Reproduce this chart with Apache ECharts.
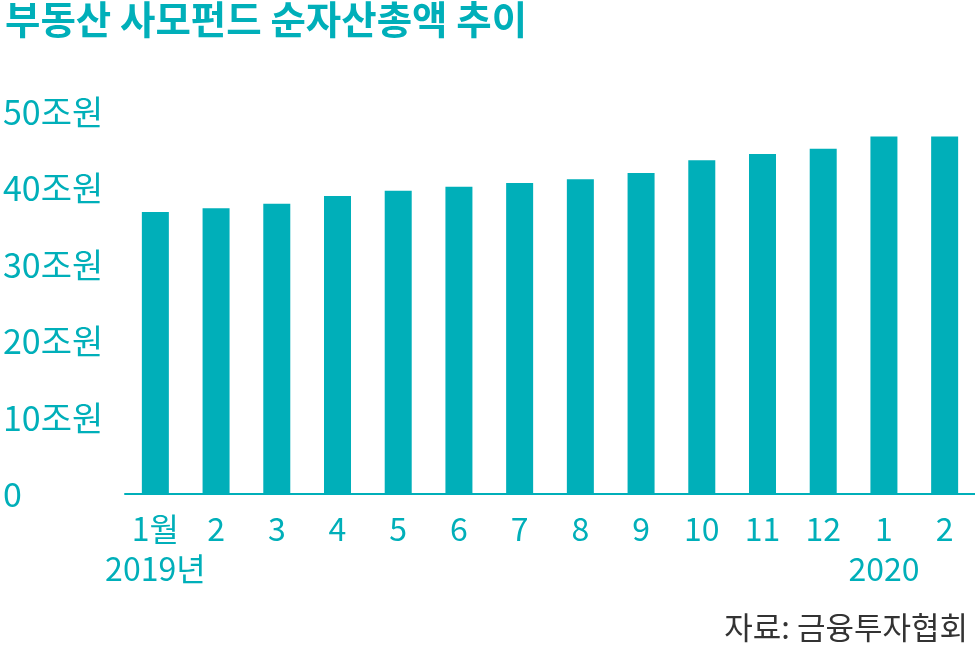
<!DOCTYPE html>
<html>
<head>
<meta charset="utf-8">
<script src="https://cdn.jsdelivr.net/npm/echarts@6/dist/echarts.min.js"></script>
<style>
html,body{margin:0;padding:0;background:#fff;}
#chart{width:975px;height:646px;}
</style>
</head>
<body>
<div id="chart"></div>
<script>
const titleText = '부동산 사모펀드 순자산총액 추이';
const sourceText = '자료: 금융투자협회';
const months = ['1월','2','3','4','5','6','7','8','9','10','11','12','1','2'];
const years = ['2019년','','','','','','','','','','','','2020',''];
const netAssets = [36.9, 37.4, 38.0, 39.0, 39.7, 40.2, 40.7, 41.2, 42.0, 43.7, 44.5, 45.2, 46.8, 46.8];
const yTicks = [0, 10, 20, 30, 40, 50];
const yUnit = '조원';

const teal = '#00AFB9';
const font = '"Noto Sans CJK KR", "Noto Sans", sans-serif';

const categories = months.map((m, i) => years[i] ? m + '\n' + years[i] : m);

const chart = echarts.init(document.getElementById('chart'), null, {renderer: 'canvas'});
chart.setOption({
  animation: false,
  backgroundColor: '#fff',
  title: [{
    text: titleText,
    left: 0, top: -5,
    textStyle: {color: teal, fontSize: 38.5, fontWeight: 'bold', fontFamily: font}
  }, {
    text: sourceText,
    right: 2, top: 607,
    textStyle: {color: '#333', fontSize: 31, fontWeight: 'normal', fontFamily: font}
  }],
  grid: {left: 125, right: 0, top: 112, bottom: 152, containLabel: false},
  xAxis: {
    type: 'category',
    data: categories,
    axisLine: {show: true, lineStyle: {color: teal, width: 2}},
    axisTick: {show: false},
    axisLabel: {
      color: teal, fontSize: 32, fontFamily: font, margin: 15,
      lineHeight: 40, interval: 0
    }
  },
  yAxis: {
    type: 'value',
    min: yTicks[0], max: yTicks[yTicks.length - 1], interval: 10,
    axisLine: {show: false},
    axisTick: {show: false},
    splitLine: {show: false},
    axisLabel: {
      color: teal, fontSize: 34, fontFamily: font,
      align: 'left', margin: 122,
      formatter: v => v === 0 ? '0' : v + yUnit
    }
  },
  series: [{
    type: 'bar',
    data: netAssets,
    barWidth: 27,
    itemStyle: {color: teal},
    label: {show: false}
  }]
});
</script>
</body>
</html>
